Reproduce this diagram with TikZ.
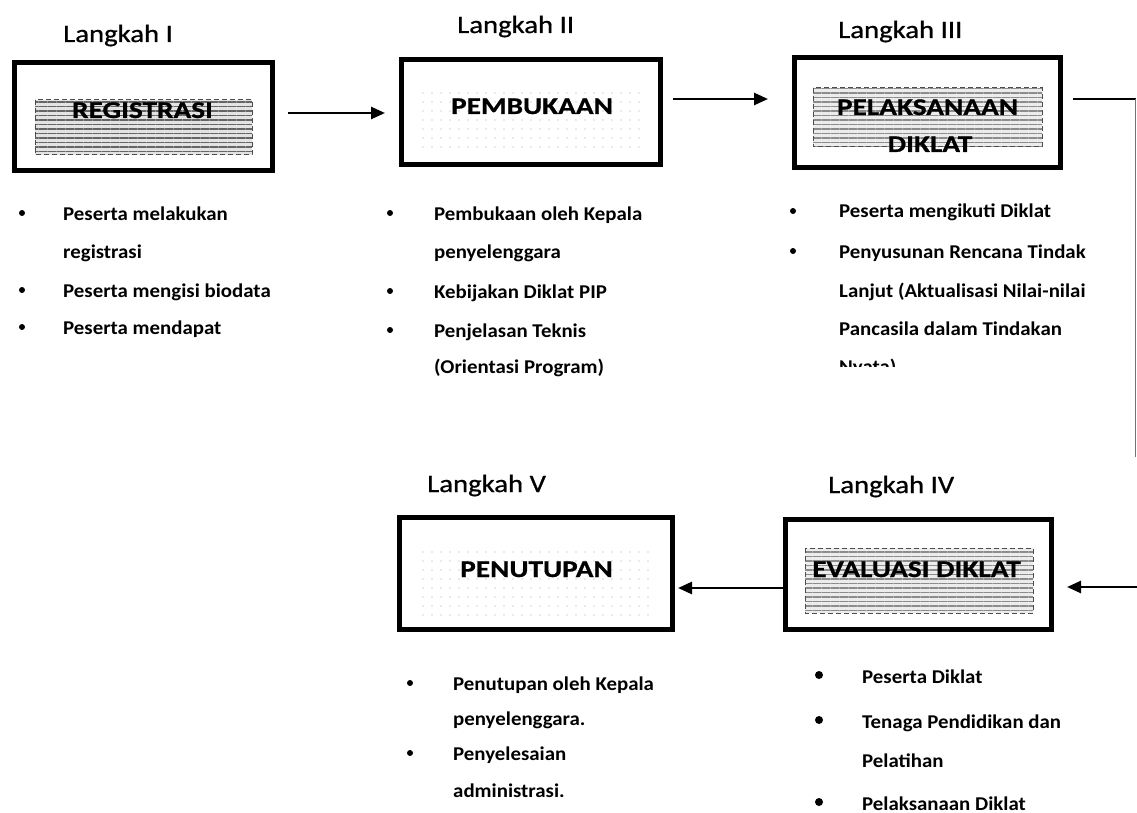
\documentclass[tikz,border=0pt]{standalone}
\usepackage{fontspec}
\setmainfont{Carlito}
\newfontfamily\titlefont[FakeStretch=1.15,FakeBold=0.8]{Carlito}
\newfontfamily\boxfont[FakeStretch=1.22,FakeBold=0.8]{Carlito}
\newfontfamily\listfont[FakeStretch=1.07]{Carlito}
\usetikzlibrary{arrows.meta,patterns.meta,calc}
\tikzset{
  box/.style={draw=black, line width=5pt, inner sep=0pt},
  hatch/.style={pattern={Lines[angle=0,distance=4.5pt,line width=1.6pt]}, pattern color=black!60},
  hatchedge/.style={draw=black!70, line width=1pt, dash pattern=on 5pt off 3pt},
  sparse/.style={pattern={Dots[distance=9pt,radius=0.55pt]}, pattern color=gray!70},
  boxtxt/.style={font=\boxfont\bfseries\fontsize{24}{26}\selectfont, inner sep=0pt, anchor=base},
  title/.style={font=\titlefont\fontsize{25}{28}\selectfont, inner sep=0pt, anchor=base west},
  item/.style={font=\listfont\bfseries\fontsize{19.5}{22}\selectfont, inner sep=0pt, anchor=base west},
  arr/.style={line width=2.6pt, -{Triangle[length=14pt,width=12pt]}},
  bul/.style={fill=black}
}
\begin{document}
\begin{tikzpicture}[x=1pt,y=-1pt]
\useasboundingbox[fill=white] (0,0) rectangle (1137,813);

% ---------- titles ----------
\node[title] (l1) at (63,42) {Langkah I};
\node[title] (l2) at (457,33) {Langkah II};
\node[title] (l3) at (838,38) {Langkah III};
\node[title] (l4) at (828,493) {Langkah IV};
\node[title] (l5) at (427,492) {Langkah V};

% ---------- inner textures ----------
\fill[gray!22] (35,100) rectangle (252,155);
\fill[hatch] (35,100) rectangle (252,155);
\draw[hatchedge] (35,100) rectangle (252,155);
\fill[sparse] (422,88) rectangle (642,152);
\fill[gray!15] (813,88) rectangle (1042,147);
\fill[hatch, pattern color=black!45] (813,88) rectangle (1042,147);
\draw[hatchedge] (813,88) rectangle (1042,147);
\fill[gray!15] (805,548) rectangle (1033,613);
\fill[hatch, pattern color=black!45] (805,548) rectangle (1033,613);
\draw[hatchedge] (805,548) rectangle (1033,613);
\fill[sparse] (420,545) rectangle (655,617);

% ---------- boxes ----------
\node[box, minimum width=258pt, minimum height=108pt] (b1) at (143.5,116.5) {};
\node[box, minimum width=259pt, minimum height=105pt] (b2) at (531,112) {};
\node[box, minimum width=266pt, minimum height=110pt] (b3) at (927.5,112.5) {};
\node[box, minimum width=266pt, minimum height=110pt] (b4) at (918.5,574.5) {};
\node[box, minimum width=273pt, minimum height=112pt] (b5) at (536,573.5) {};

% ---------- box texts ----------
\node[boxtxt] (t1) at (142.5,118) {REGISTRASI};
\node[boxtxt] (t2) at (532,114) {PEMBUKAAN};
\node[boxtxt] (t3a) at (927.5,115) {PELAKSANAAN};
\node[boxtxt] (t3b) at (930,152) {DIKLAT};
\node[boxtxt] (t4) at (916.5,577) {EVALUASI DIKLAT};
\node[boxtxt] (t5) at (536.5,577) {PENUTUPAN};

% ---------- connectors ----------
\draw[arr] ($(b1.east)+(13,-3.5)$) -- ($(b2.west)+(-14,1)$);
\draw[arr] ($(b2.east)+(10,-13)$) -- ($(b3.west)+(-24,-13.5)$);
\coordinate (c1) at (1135.5,99);
\coordinate (c2) at (1135.5,457);
\draw[line width=2.2pt] ($(b3.east)+(10,-13.5)$) -- (c1);
\draw[line width=1.2pt, draw=black!55] (c1) -- (c2);
\coordinate (c3) at (1137,587);
\draw[arr] (c3) -- ($(b4.east)+(13,12.5)$);
\draw[arr] (b4.west |- 0,588) -- ($(b5.east)+(3,14.5)$);

% ---------- list 1 ----------
\fill[bul] (22,213) circle (3pt);
\fill[bul] (22,290) circle (3pt);
\fill[bul] (22,327) circle (3pt);
\node[item] (p1a) at (63,220) {Peserta melakukan};
\node[item] (p1b) at (63,258) {registrasi};
\node[item] (p1c) at (63,297) {Peserta mengisi biodata};
\node[item] (p1d) at (63,334) {Peserta mendapat};

% ---------- list 2 ----------
\fill[bul] (390,213) circle (3pt);
\fill[bul] (390,291) circle (3pt);
\fill[bul] (390,330) circle (3pt);
\node[item] (p2a) at (434,220) {Pembukaan oleh Kepala};
\node[item] (p2b) at (434,258) {penyelenggara};
\node[item] (p2c) at (434,298) {Kebijakan Diklat PIP};
\node[item] (p2d) at (434,337) {Penjelasan Teknis};
\node[item] (p2e) at (434,373) {(Orientasi Program)};

% ---------- list 3 ----------
\fill[bul] (793,211) circle (3pt);
\fill[bul] (793,251) circle (3pt);
\node[item] (p3a) at (839,218) {Peserta mengikuti Diklat};
\node[item] (p3b) at (839,258) {Penyusunan Rencana Tindak};
\node[item] (p3c) at (839,297) {Lanjut (Aktualisasi Nilai-nilai};
\node[item] (p3d) at (839,335) {Pancasila dalam Tindakan};
\begin{scope}
\clip (830,340) rectangle (1000,366);
\node[item] (p3e) at (839,373) {Nyata)};
\end{scope}

% ---------- list 4 ----------
\fill[bul] (819,675) circle (4pt);
\fill[bul] (819,720) circle (4pt);
\fill[bul] (819,802) circle (4pt);
\node[item] (p4a) at (862,683) {Peserta Diklat};
\node[item] (p4b) at (862,728) {Tenaga Pendidikan dan};
\node[item] (p4c) at (862,767) {Pelatihan};
\node[item] (p4d) at (862,810) {Pelaksanaan Diklat};

% ---------- list 5 ----------
\fill[bul] (410,683) circle (3pt);
\fill[bul] (410,753) circle (3pt);
\node[item] (p5a) at (453,690) {Penutupan oleh Kepala};
\node[item] (p5b) at (453,725) {penyelenggara.};
\node[item] (p5c) at (453,760) {Penyelesaian};
\node[item] (p5d) at (453,797) {administrasi.};
\end{tikzpicture}
\end{document}
